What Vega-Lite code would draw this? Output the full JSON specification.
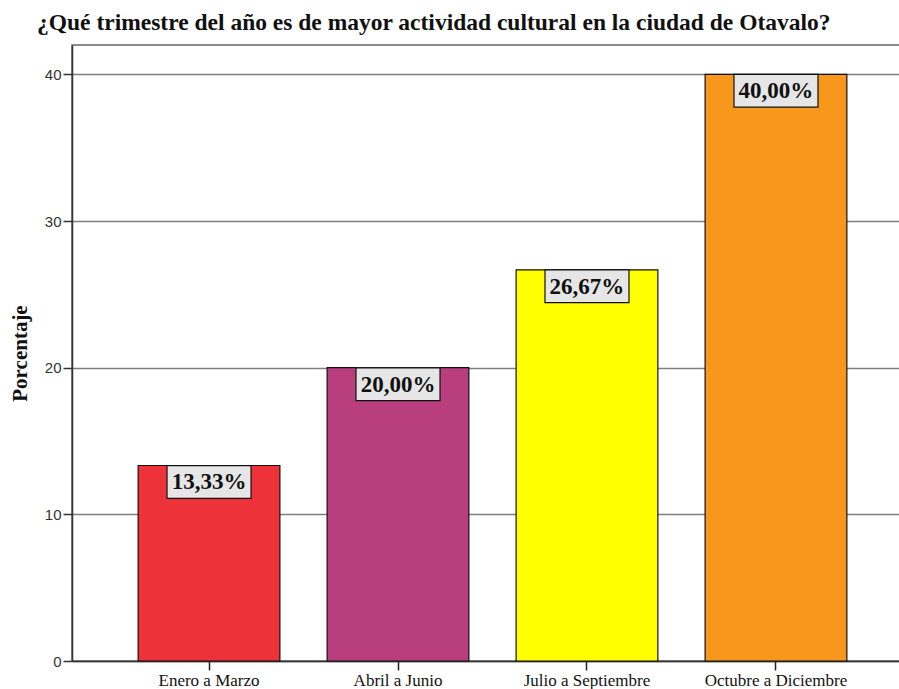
{
  "$schema": "https://vega.github.io/schema/vega-lite/v6.json",
  "autosize": "none",
  "padding": {"left": 72, "top": 45, "right": 0, "bottom": 28},
  "width": 841,
  "height": 616,
  "background": "white",
  "title": {
    "text": "¿Qué trimestre del año es de mayor actividad cultural en la ciudad de Otavalo?",
    "font": "Liberation Serif",
    "fontSize": 23.5,
    "fontWeight": "bold",
    "color": "#111111",
    "anchor": "start",
    "frame": "group",
    "baseline": "alphabetic",
    "offset": -8,
    "dx": -35
  },
  "data": {
    "values": [
      {"trimestre": "Enero a Marzo", "porcentaje": 13.33, "etiqueta": "13,33%"},
      {"trimestre": "Abril a Junio", "porcentaje": 20.0, "etiqueta": "20,00%"},
      {"trimestre": "Julio a Septiembre", "porcentaje": 26.67, "etiqueta": "26,67%"},
      {"trimestre": "Octubre a Diciembre", "porcentaje": 40.0, "etiqueta": "40,00%"}
    ]
  },
  "encoding": {
    "x": {
      "field": "trimestre",
      "type": "nominal",
      "sort": null,
      "scale": {"paddingInner": 0.25, "paddingOuter": 0.35},
      "axis": {
        "title": null,
        "labelAngle": 0,
        "labelFont": "Liberation Serif",
        "labelFontSize": 17,
        "labelColor": "#111111",
        "labelPadding": 2,
        "tickSize": 9,
        "tickColor": "#222222",
        "tickWidth": 1.5,
        "domainColor": "#333333",
        "domainWidth": 1.5,
        "grid": false
      }
    },
    "y": {
      "field": "porcentaje",
      "type": "quantitative",
      "scale": {"domain": [0, 42], "nice": false},
      "axis": {
        "title": "Porcentaje",
        "titleFont": "Liberation Serif",
        "titleFontSize": 21,
        "titleFontWeight": "bold",
        "titleColor": "#111111",
        "titlePadding": 14,
        "values": [0, 10, 20, 30, 40],
        "labelFont": "Liberation Sans Narrow, Liberation Sans",
        "labelFontSize": 15,
        "labelColor": "#333333",
        "labelPadding": 2,
        "tickSize": 9,
        "tickColor": "#333333",
        "tickWidth": 1.5,
        "domainColor": "#333333",
        "domainWidth": 1.5,
        "grid": true,
        "gridColor": "#7f7f7f",
        "gridWidth": 1.5
      }
    }
  },
  "layer": [
    {
      "mark": {"type": "bar", "stroke": "#111111", "strokeWidth": 1.2},
      "encoding": {
        "color": {
          "field": "trimestre",
          "type": "nominal",
          "sort": null,
          "scale": {
            "domain": ["Enero a Marzo", "Abril a Junio", "Julio a Septiembre", "Octubre a Diciembre"],
            "range": ["#EE3239", "#B83E7D", "#FFFF00", "#F7981D"]
          },
          "legend": null
        }
      }
    },
    {
      "mark": {
        "type": "point",
        "shape": "M-1,-0.39H1V0.39H-1Z",
        "size": 7056,
        "filled": true,
        "fill": "#E6E6E6",
        "stroke": "#111111",
        "strokeWidth": 1.2,
        "opacity": 1,
        "yOffset": 16.5
      },
      "encoding": {}
    },
    {
      "mark": {
        "type": "text",
        "font": "Liberation Serif",
        "fontSize": 23,
        "fontWeight": "bold",
        "color": "#111111",
        "baseline": "middle",
        "align": "center",
        "dy": 17
      },
      "encoding": {"text": {"field": "etiqueta"}}
    }
  ],
  "config": {
    "view": {"stroke": "#666666", "strokeWidth": 1.5}
  }
}
